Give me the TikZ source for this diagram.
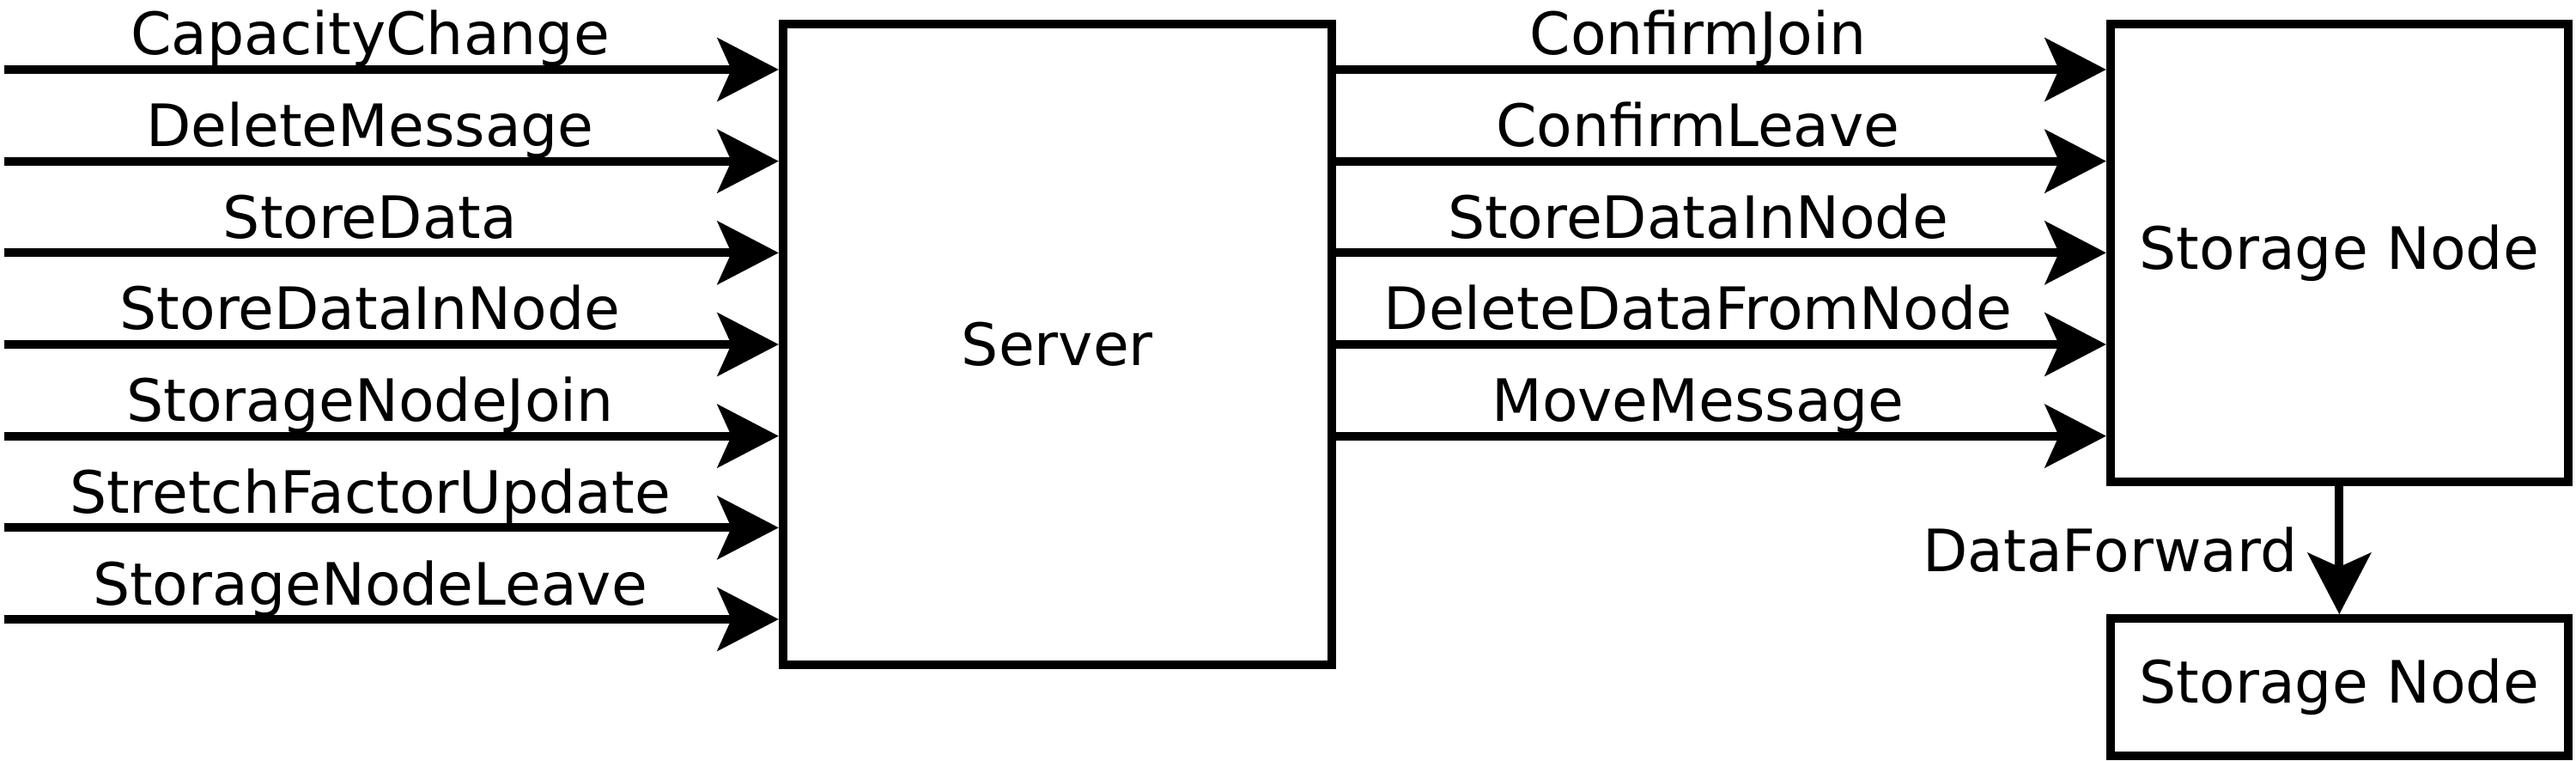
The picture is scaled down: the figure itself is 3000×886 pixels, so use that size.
\documentclass[tikz,border=0pt]{standalone}
\usepackage{fontspec}
\setmainfont{DejaVu Sans}
\usetikzlibrary{arrows.meta}
\begin{document}
\begin{tikzpicture}[x=0.25pt,y=-0.25pt,
  font=\fontsize{17}{20}\selectfont,
  box/.style={draw, line width=2.5pt, rectangle, inner sep=0pt},
  msg/.style={line width=2.5pt, -{Stealth[length=18pt,width=18.75pt,inset=4.25pt,line width=0pt]}},
  lbl/.style={anchor=base, inner sep=0pt}]
\useasboundingbox (0,0) rectangle (3000,886);
\node[box, minimum width=159.8pt, minimum height=186.6pt] (srv) at (1231.35,401.15) {Server};
\node[box, minimum width=133.3pt, minimum height=133.25pt] (sn) at (2724.35,294.5) {Storage Node};
\node[box, minimum width=133.3pt, minimum height=39.9pt] (sn2) at (2724.35,799.85) {Storage Node};
\foreach \i/\yy/\t in {1/81/CapacityChange, 2/187.67/DeleteMessage, 3/294.33/StoreData,
    4/401/StoreDataInNode, 5/507.67/StorageNodeJoin, 6/614.33/StretchFactorUpdate, 7/721/StorageNodeLeave}{
  \coordinate (in\i) at (5,\yy);
  \draw[msg] (in\i) -- (in\i -| srv.west);
  \node[lbl] (inl\i) at (431,\yy-17) {\t};
}
\foreach \i/\yy/\t in {1/81/ConfirmJoin, 2/187.67/ConfirmLeave, 3/294.33/StoreDataInNode,
    4/401/DeleteDataFromNode, 5/507.67/MoveMessage}{
  \coordinate (out\i) at (1551,\yy);
  \draw[msg] (out\i -| srv.east) -- (out\i -| sn.west);
  \node[lbl] (outl\i) at (1977.5,\yy-17) {\t};
}
\draw[msg] (sn.south) -- (sn2.north);
\node[anchor=base east, inner sep=0pt] (df) at (2676,666) {DataForward};
\end{tikzpicture}
\end{document}
